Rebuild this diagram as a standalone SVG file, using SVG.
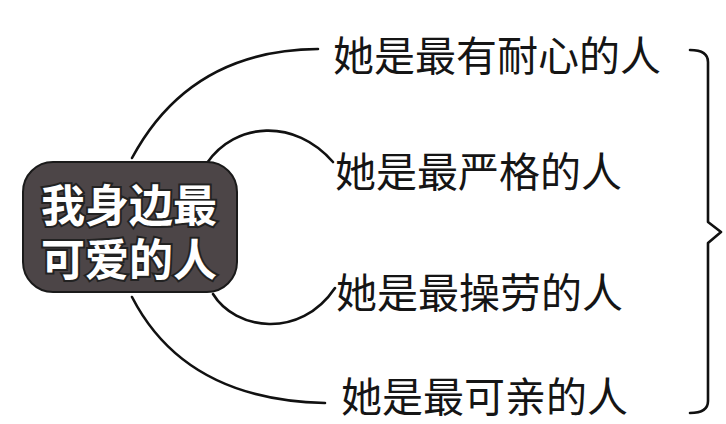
<svg xmlns="http://www.w3.org/2000/svg" width="726" height="424" viewBox="0 0 726 424">
<style>
.conn{fill:none;stroke:#111;stroke-width:2.6;stroke-linecap:round;stroke-linejoin:round}
.leaf{font-family:"Noto Sans CJK SC","Noto Sans",sans-serif;font-size:41px;fill:#151515;dominant-baseline:central}
.center{font-family:"Noto Sans CJK SC","Noto Sans",sans-serif;font-size:44px;font-weight:bold;fill:#fff;stroke:#222;stroke-width:4;paint-order:stroke;text-anchor:middle;dominant-baseline:central}
</style>
<rect width="726" height="424" fill="#fff"/>
<g id="connectors">
<path class="conn" d="M132 158 Q190 50 318 49"/>
<path class="conn" d="M207 163 C235 122 295 118 333 162"/>
<path class="conn" d="M213 294 C235 330 300 340 335 288"/>
<path class="conn" d="M132 297 Q185 400 325 403"/>
</g>
<g id="center">
<rect x="23" y="162" width="214" height="130" rx="30" fill="#4c4547" stroke="#1a1a1a" stroke-width="2"/>
<text class="center"><tspan x="129" y="203">我身边最</tspan><tspan x="129" y="257">可爱的人</tspan></text>
</g>
<g id="n1"><text class="leaf" x="333" y="53">她是最有耐心的人</text></g>
<g id="n2"><text class="leaf" x="335" y="169">她是最严格的人</text></g>
<g id="n3"><text class="leaf" x="336" y="290">她是最操劳的人</text></g>
<g id="n4"><text class="leaf" x="341" y="394">她是最可亲的人</text></g>
<g id="brace">
<path class="conn" d="M690 50 Q708 50 708 62 L708 222 L721 232 L708 243 L708 401 Q708 413 690 413"/>
</g>
</svg>
